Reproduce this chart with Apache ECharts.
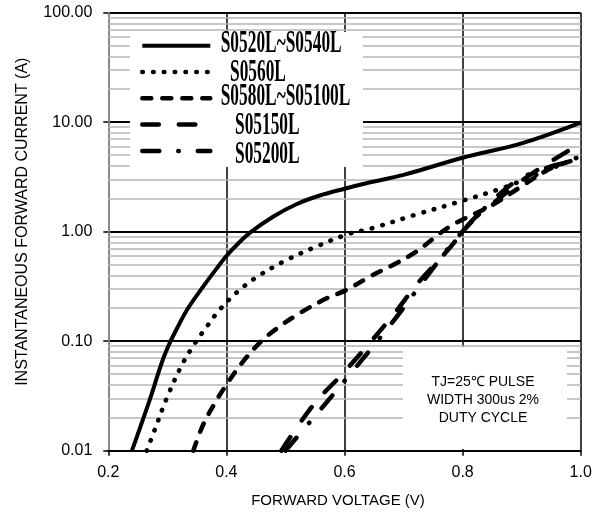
<!DOCTYPE html>
<html><head><meta charset="utf-8">
<script src="https://cdn.jsdelivr.net/npm/echarts@6/dist/echarts.min.js"></script>
<style>html,body{margin:0;padding:0;background:#fff}#c{width:603px;height:519px}</style>
</head><body><div id="c"></div>
<script>
// ---- data (voltage V, current A) ----
const seriesNames = ['S0520L~S0540L', 'S0560L', 'S0580L~S05100L', 'S05150L', 'S05200L'];
const s0520 = [[0.240,0.01],[0.270,0.029],[0.292,0.067],[0.3055,0.1],[0.320,0.143],[0.335,0.2],[0.3606,0.315],[0.3833,0.46],[0.400,0.6],[0.420,0.78],[0.440,0.98],[0.479,1.37],[0.5185,1.78],[0.558,2.14],[0.600,2.47],[0.637,2.77],[0.700,3.3],[0.800,4.74],[0.900,6.4],[1.000,9.9]];
const s0560 = [[0.265,0.01],[0.279,0.0157],[0.2987,0.030],[0.324,0.0597],[0.344,0.091],[0.3664,0.135],[0.390,0.198],[0.418,0.28],[0.448,0.375],[0.4987,0.54],[0.552,0.73],[0.6057,0.95],[0.6453,1.07],[0.7185,1.42],[0.7946,1.88],[0.8706,2.54],[0.930,3.4],[1.000,4.9]];
const s0580 = [[0.344,0.01],[0.360,0.017],[0.380,0.027],[0.400,0.04],[0.425,0.062],[0.455,0.095],[0.4847,0.13],[0.524,0.18],[0.569,0.245],[0.603,0.293],[0.6425,0.388],[0.682,0.497],[0.7214,0.656],[0.7777,1.11],[0.850,1.75],[0.900,2.6],[0.950,3.8],[1.000,4.7]];
const s05150 = [[0.493,0.01],[0.5466,0.026],[0.5946,0.049],[0.6425,0.096],[0.6847,0.18],[0.724,0.338],[0.775,0.68],[0.817,1.28],[0.845,1.69],[0.902,2.97],[0.986,5.78],[1.000,6.2]];
const s05200 = [[0.500,0.01],[0.544,0.019],[0.6135,0.053],[0.682,0.151],[0.7456,0.431],[0.7975,0.97],[0.885,2.77],[0.947,3.9],[1.000,4.5]];
const xTicks = [0.2, 0.4, 0.6, 0.8, 1.0];
const yTicks = [0.01, 0.1, 1, 10, 100];
const minorGrid = [0.02,0.03,0.04,0.05,0.06,0.07,0.08,0.09,
                   0.2,0.3,0.4,0.5,0.6,0.7,0.8,0.9,
                   2,3,4,5,6,7,8,9,
                   20,30,40,50,60,70,80,90];
const note = ['TJ=25\u2103 PULSE', 'WIDTH 300us 2%', 'DUTY CYCLE'];

// ---- chart ----
const chart = echarts.init(document.getElementById('c'), null, {renderer: 'canvas'});
const SANS = 'Liberation Sans, Arial, sans-serif';
const SERIF = 'Liberation Serif, Times New Roman, serif';

function mk(name, data, ls) {
  return {
    name: name, type: 'line', data: data, symbol: 'none', smooth: 0.35,
    itemStyle: {color: '#000'},
    lineStyle: Object.assign({color: '#000'}, ls),
    z: 2, silent: true, animation: false
  };
}

const legendRows = [
  {y: 43.7, x: 220.7}, {y: 72.5, x: 230}, {y: 97, x: 220.7}, {y: 126, x: 235}, {y: 155, x: 235}
];

const option = {
  backgroundColor: '#fff',
  animation: false,
  grid: {left: 108.3, right: 22.3, top: 12.7, bottom: 68.3, containLabel: false},
  xAxis: {
    type: 'value', min: xTicks[0], max: xTicks[xTicks.length - 1], interval: 0.2,
    axisLine: {show: true, lineStyle: {color: '#000', width: 2}},
    axisTick: {show: true, inside: false, length: 5, lineStyle: {color: '#000', width: 1.5}},
    axisLabel: {margin: 14, fontSize: 16, fontFamily: SANS, color: '#000',
      formatter: v => Number(v).toFixed(1)},
    splitLine: {show: true, lineStyle: {color: ['#8a8a8a', '#000', '#000', '#000', '#000'], width: 1.5}},
    name: 'FORWARD VOLTAGE (V)', nameLocation: 'middle', nameGap: 43,
    nameTextStyle: {fontSize: 15, fontFamily: SANS, color: '#000', padding: [0, 13, 0, 0]}
  },
  yAxis: {
    type: 'log', logBase: 10, min: yTicks[0], max: yTicks[yTicks.length - 1],
    axisLine: {show: true, lineStyle: {color: '#8a8a8a', width: 2}},
    axisTick: {show: true, inside: false, length: 5, lineStyle: {color: '#000', width: 1.5}},
    axisLabel: {margin: 16, fontSize: 16, fontFamily: SANS, color: '#000',
      formatter: v => Number(v).toFixed(2)},
    splitLine: {show: true, lineStyle: {color: '#000', width: 2}},
    minorTick: {show: false}, minorSplitLine: {show: false},
    name: 'INSTANTANEOUS FORWARD CURRENT (A)', nameLocation: 'middle', nameGap: 78,
    nameTextStyle: {fontSize: 16, fontFamily: SANS, color: '#000', padding: [0, 0, 0, 20]}
  },
  legend: {
    orient: 'vertical', left: 140, top: 38.7, itemWidth: 68, itemHeight: 14, itemGap: 13.7,
    padding: 0, selectedMode: false, formatter: () => '', data: seriesNames, z: 4,
    lineStyle: {width: 'inherit'},
    itemStyle: {color: 'rgba(0,0,0,0)', borderWidth: 0, opacity: 0},
    textStyle: {fontSize: 1}
  },
  graphic: [
    {type: 'rect', z: 3, silent: true, shape: {x: 130, y: 32, width: 233, height: 135}, style: {fill: '#fff'}},
    {type: 'rect', z: 3, silent: true, shape: {x: 403, y: 347, width: 164, height: 102}, style: {fill: '#fff'}}
  ].concat(seriesNames.map((n, i) => ({
    type: 'text', z: 6, silent: true, x: legendRows[i].x, y: legendRows[i].y, scaleX: 0.56, scaleY: 1,
    style: {text: n, fontFamily: SERIF, fontSize: 31, fontWeight: 'bold', fill: '#000',
      textAlign: 'left', textVerticalAlign: 'middle'}
  }))).concat([
    {type: 'text', z: 6, silent: true, x: 483, y: 400,
     style: {text: note.join('\n'), fontFamily: SANS, fontSize: 14, lineHeight: 17.8, fill: '#000',
       textAlign: 'center', textVerticalAlign: 'middle'}}
  ]),
  series: [
    mk(seriesNames[0], s0520, {width: 4, type: 'solid'}),
    mk(seriesNames[1], s0560, {width: 4.6, type: [0.5, 10.3], cap: 'round'}),
    mk(seriesNames[2], s0580, {width: 4.5, type: [9, 11], cap: 'round'}),
    mk(seriesNames[3], s05150, {width: 4.5, type: [16.5, 20], cap: 'round'}),
    mk(seriesNames[4], s05200, {width: 4.5, type: [17, 19, 0.5, 19], cap: 'round'}),
    {
      name: 'minor-grid', type: 'line', data: [], silent: true, animation: false,
      markLine: {
        silent: true, symbol: 'none', z: 1, animation: false,
        label: {show: false},
        lineStyle: {color: '#b4b4b4', width: 1.5, type: 'solid'},
        data: minorGrid.map(v => ({yAxis: v}))
      }
    }
  ]
};
chart.setOption(option);
</script>
</body></html>
